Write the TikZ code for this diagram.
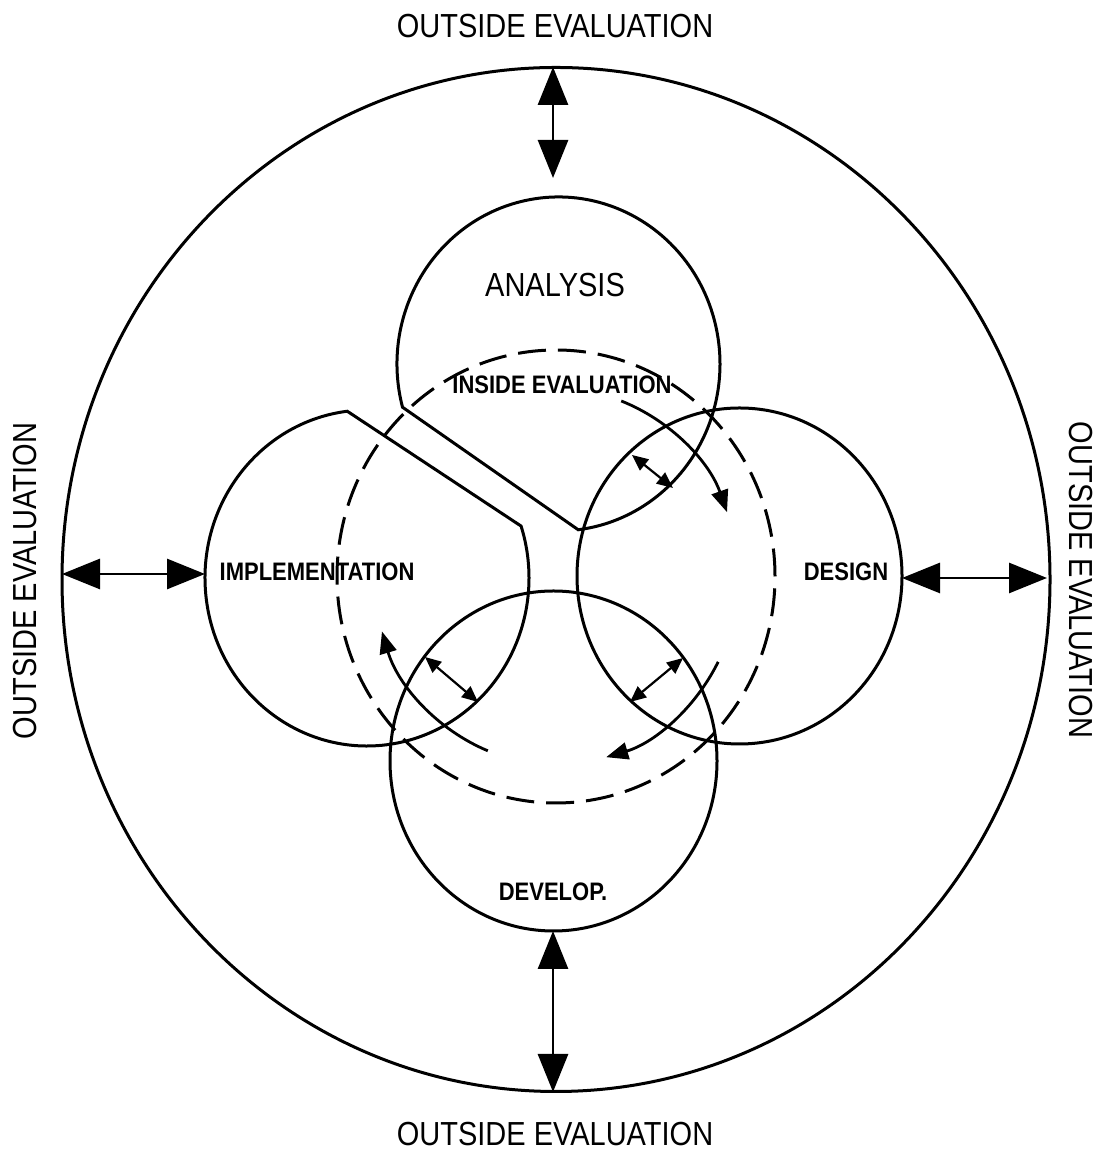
\documentclass[tikz,border=0pt]{standalone}
\usepackage{fontspec}
\setmainfont{Liberation Sans}
\usetikzlibrary{arrows.meta,calc}

\newcommand\tallbox[1]{\scalebox{1}[1.15]{#1}}

\begin{document}
\begin{tikzpicture}[x=0.5pt, y=0.5pt,
  ring/.style={line width=1.5pt},
  bigarrow/.style={line width=1.4pt, {Triangle[length=19pt,width=15pt]}-{Triangle[length=19pt,width=15pt]}},
  smallarrow/.style={line width=1.1pt, {Triangle[length=8pt,width=7pt]}-{Triangle[length=8pt,width=7pt]}},
  cyclearrow/.style={line width=1.4pt, -{Triangle[length=11pt,width=8.5pt]}},
  outlabel/.style={font=\fontsize{14.5}{17}\selectfont},
  inlabel/.style={font=\bfseries\fontsize{11}{13}\selectfont}]
\useasboundingbox (0,0) rectangle (1103,1154);

%centres
\coordinate (c) at (556,577.5);
\coordinate (ca) at (558.5,790);
\coordinate (ci) at (367,576);
\coordinate (cd) at (739.5,578);
\coordinate (cv) at (553.5,393);

%outer circle
\draw[ring] (556,574.5) ellipse [x radius=494, y radius=512];

%inside evaluation circle
\draw[ring, dash pattern=on 14pt off 6pt] (c) ellipse [x radius=219, y radius=226.5];

%phases
\draw[ring] ($(ca)+(195:161.5 and 167)$) arc [start angle=195, end angle=-83, x radius=161.5, y radius=167] -- cycle;
\draw[ring] ($(ci)+(97:162 and 168)$) arc [start angle=97, end angle=378, x radius=162, y radius=168] -- cycle;
\draw[ring] (cd) ellipse [x radius=162.5, y radius=168];
\draw[ring] (cv) ellipse [x radius=163.5, y radius=170];

%labels
\node[outlabel] (outTop) at (555,1128) {\tallbox{OUTSIDE EVALUATION}};
\node[outlabel] (outBottom) at (555,20) {\tallbox{OUTSIDE EVALUATION}};
\node[outlabel, rotate=90] (outLeft) at (25,573) {\tallbox{OUTSIDE EVALUATION}};
\node[outlabel, rotate=-90] (outRight) at (1081,574) {\tallbox{OUTSIDE EVALUATION}};
\node[outlabel] (analysis) at (555,869) {\tallbox{ANALYSIS}};
\node[inlabel] (inside) at (562,769) {\tallbox{INSIDE EVALUATION}};
\node[inlabel] (implementation) at (317,582) {\tallbox{IMPLEMENTATION}};
\node[inlabel] (design) at (846,582) {\tallbox{DESIGN}};
\node[inlabel] (develop) at (553,262) {\tallbox{DEVELOP.}};

%outside evaluation
\coordinate (oT) at (553,1087); \coordinate (aT) at (553,976);
\coordinate (vB) at (553,223); \coordinate (oB) at (553,62);
\coordinate (oL) at (62,580); \coordinate (iL) at (205,580);
\coordinate (dR) at (902,576); \coordinate (oR) at (1047,576);
\draw[bigarrow] (oT) -- (aT);
\draw[bigarrow] (vB) -- (oB);
\draw[bigarrow] (oL) -- (iL);
\draw[bigarrow] (dR) -- (oR);

%overlaps
\coordinate (ad1) at (632,699); \coordinate (ad2) at (673,666);
\coordinate (dv1) at (683,496); \coordinate (dv2) at (630,452);
\coordinate (vi1) at (478,452); \coordinate (vi2) at (425,497);
\draw[smallarrow] (ad1) -- (ad2);
\draw[smallarrow] (dv1) -- (dv2);
\draw[smallarrow] (vi1) -- (vi2);

%inside evaluation cycle
\draw[cyclearrow] ($(c)+(69:182 and 188)$) arc [start angle=69, end angle=20, x radius=182, y radius=188];
\draw[cyclearrow] ($(c)+(-27:182 and 188)$) arc [start angle=-27, end angle=-74, x radius=182, y radius=188];
\draw[cyclearrow] ($(c)+(248:182 and 188)$) arc [start angle=248, end angle=197, x radius=182, y radius=188];
\end{tikzpicture}
\end{document}
